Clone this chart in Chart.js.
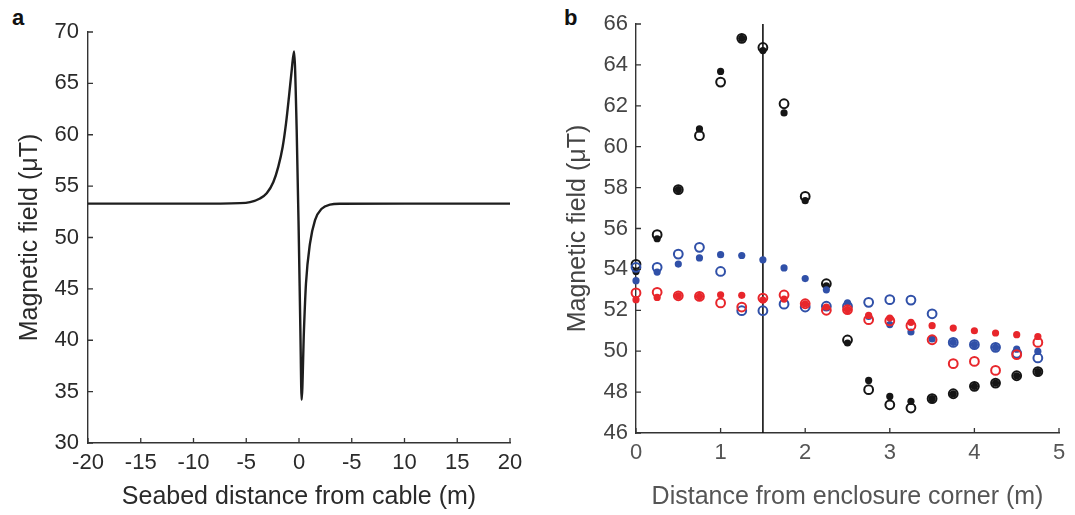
<!DOCTYPE html>
<html>
<head>
<meta charset="utf-8">
<script src="https://cdn.jsdelivr.net/npm/chart.js@4"></script>
<style>
  body { margin: 0; background: #fff; width: 1075px; height: 515px; overflow: hidden; position: relative; font-family: 'Liberation Sans', Arial, sans-serif; }
  .panel { position: absolute; top: 0; height: 515px; }
  #boxA { left: 0; width: 540px; }
  #boxB { left: 540px; width: 535px; }
  .tag { position: absolute; top: 5px; font-weight: bold; font-size: 22px; color: #111; }
</style>
</head>
<body>
<div class="tag" style="left:12px">a</div>
<div class="tag" style="left:564px">b</div>
<div class="panel" id="boxA"><canvas id="chartA"></canvas></div>
<div class="panel" id="boxB"><canvas id="chartB"></canvas></div>
<script>
// panel a: modelled field across the cable
const cableDistance = [-20, -10, -5.6, -4.64, -3.7, -3.06, -2.43, -1.96, -1.55, -1.23, -0.95, -0.69, -0.47, -0.22, -0.03, 0.13, 0.25, 0.47, 0.66, 1.04, 1.52, 2.15, 2.94, 3.9, 10, 20];
const cableField = [53.3, 53.3, 53.35, 53.45, 53.8, 54.3, 55.4, 56.9, 58.8, 61.1, 63.7, 66.3, 68.1, 60.5, 50.7, 41.0, 34.2, 41.0, 45.5, 49.4, 51.7, 52.8, 53.2, 53.28, 53.3, 53.3];
const cableTickLabels = ['-20', '-15', '-10', '-5', '0', '-5', '10', '15', '20'];

// panel b: measured field in the enclosure
const cornerDistance = [0, 0.25, 0.5, 0.75, 1, 1.25, 1.5, 1.75, 2, 2.25, 2.5, 2.75, 3, 3.25, 3.5, 3.75, 4, 4.25, 4.5, 4.75];
const blackFilled = [53.9, 55.5, 57.9, 60.87, 63.68, 65.3, 64.7, 61.65, 57.36, 53.2, 50.4, 48.57, 47.79, 47.55, 47.68, 47.92, 48.28, 48.44, 48.8, 49.0];
const blackOpen = [54.25, 55.7, 57.9, 60.54, 63.16, 65.3, 64.85, 62.1, 57.57, 53.3, 50.55, 48.12, 47.38, 47.22, 47.68, 47.92, 48.28, 48.44, 48.8, 49.0];
const blueFilled = [53.45, 53.87, 54.26, 54.56, 54.72, 54.68, 54.47, 54.07, 53.55, 53.0, 52.36, 51.7, 51.3, 50.94, 50.6, 50.43, 50.32, 50.19, 50.1, 49.99];
const blueOpen = [54.1, 54.1, 54.75, 55.08, 53.9, 51.98, 51.98, 52.3, 52.16, 52.2, 52.2, 52.39, 52.52, 52.5, 51.83, 50.43, 50.32, 50.19, 49.9, 49.67];
const redFilled = [52.52, 52.63, 52.71, 52.68, 52.76, 52.73, 52.5, 52.55, 52.32, 52.16, 52.03, 51.75, 51.62, 51.41, 51.25, 51.13, 51.0, 50.89, 50.81, 50.72];
const redOpen = [52.85, 52.88, 52.71, 52.68, 52.36, 52.16, 52.6, 52.75, 52.32, 52.0, 52.03, 51.54, 51.48, 51.25, 50.56, 49.39, 49.5, 49.06, 49.83, 50.43];
const markerDistance = [1.5, 1.5];
const markerField = [46, 66];

const blackColor = '#151515';
const blueColor = '#3050a8';
const redColor = '#e8262b';
const fontFamily = "'Liberation Sans', Arial, Helvetica, sans-serif";

// matlab style ticks pointing into the plot
const inwardTicks = {
    id: 'inwardTicks',
    afterDraw(chart) {
        const {ctx, chartArea, scales: {x, y}} = chart;
        ctx.save();
        ctx.strokeStyle = '#333';
        ctx.lineWidth = 1.3;
        ctx.beginPath();
        x.ticks.forEach((t, i) => {
            const px = x.getPixelForTick(i);
            ctx.moveTo(px, chartArea.bottom);
            ctx.lineTo(px, chartArea.bottom - 5);
        });
        y.ticks.forEach((t, i) => {
            const py = y.getPixelForTick(i);
            ctx.moveTo(chartArea.left, py);
            ctx.lineTo(chartArea.left + 5, py);
        });
        ctx.stroke();
        ctx.restore();
    }
};

function toPoints(xs, ys) {
    return xs.map((x, i) => ({x, y: ys[i]}));
}

function axis(opts) {
    return {
        type: 'linear',
        min: opts.min,
        max: opts.max,
        grid: {display: false, drawTicks: false},
        border: {display: true, color: '#333', width: 1.4},
        ticks: {
            stepSize: opts.step,
            color: opts.color,
            padding: opts.padding,
            font: {family: fontFamily, size: 22},
            maxRotation: 0,
            autoSkip: false,
            callback: opts.callback,
        },
        title: {
            display: true,
            text: opts.title,
            color: opts.color,
            font: {family: fontFamily, size: 25},
            padding: opts.titlePadding,
        },
        afterFit: opts.afterFit,
    };
}

Chart.defaults.animation = false;
Chart.defaults.responsive = true;
Chart.defaults.maintainAspectRatio = false;

new Chart(document.getElementById('chartA'), {
    type: 'scatter',
    data: {
        datasets: [{
            data: toPoints(cableDistance, cableField),
            showLine: true,
            cubicInterpolationMode: 'monotone',
            borderColor: '#1e1e1e',
            borderWidth: 2.4,
            pointRadius: 0,
        }]
    },
    options: {
        layout: {padding: {left: 10, top: 32, right: 30, bottom: 0}},
        plugins: {legend: {display: false}, tooltip: {enabled: false}},
        scales: {
            x: axis({
                min: -20, max: 20, step: 5, color: '#2a2a2a', padding: 7,
                title: 'Seabed distance from cable (m)',
                titlePadding: {top: 0, bottom: 3},
                callback: (v, i) => cableTickLabels[i],
                afterFit: (s) => { s.height = 515 - 443; },
            }),
            y: axis({
                min: 30, max: 70, step: 5, color: '#2a2a2a', padding: 9,
                title: 'Magnetic field (\u03bcT)',
                titlePadding: {top: 5, bottom: 0},
                afterFit: (s) => { s.width = 88 - 10; },
            }),
        }
    },
    plugins: [inwardTicks]
});

function seriesSet(ys, color, open, order) {
    return {
        data: toPoints(cornerDistance, ys),
        pointRadius: open ? 4.4 : 3.6,
        pointBorderWidth: open ? 2 : 0,
        pointBorderColor: color,
        pointBackgroundColor: open ? 'rgba(0,0,0,0)' : color,
        clip: false,
        order,
    };
}

new Chart(document.getElementById('chartB'), {
    type: 'scatter',
    data: {
        datasets: [
            seriesSet(redFilled, redColor, false, 0),
            seriesSet(redOpen, redColor, true, 1),
            seriesSet(blueFilled, blueColor, false, 2),
            seriesSet(blueOpen, blueColor, true, 3),
            seriesSet(blackFilled, blackColor, false, 4),
            seriesSet(blackOpen, blackColor, true, 5),
            {
                data: toPoints(markerDistance, markerField),
                showLine: true,
                borderColor: '#111',
                borderWidth: 1.6,
                pointRadius: 0,
                order: 6,
            },
        ]
    },
    options: {
        layout: {padding: {left: 18, top: 24, right: 16, bottom: 0}},
        plugins: {legend: {display: false}, tooltip: {enabled: false}},
        scales: {
            x: axis({
                min: 0, max: 5, step: 1, color: '#555', padding: 7,
                title: 'Distance from enclosure corner (m)',
                titlePadding: {top: 0, bottom: 3},
                afterFit: (s) => { s.height = 515 - 433; },
            }),
            y: axis({
                min: 46, max: 66, step: 2, color: '#444', padding: 8,
                title: 'Magnetic field (\u03bcT)',
                titlePadding: {top: 5, bottom: 0},
                afterFit: (s) => { s.width = 96 - 18; },
            }),
        }
    },
    plugins: [inwardTicks]
});
</script>
</body>
</html>
